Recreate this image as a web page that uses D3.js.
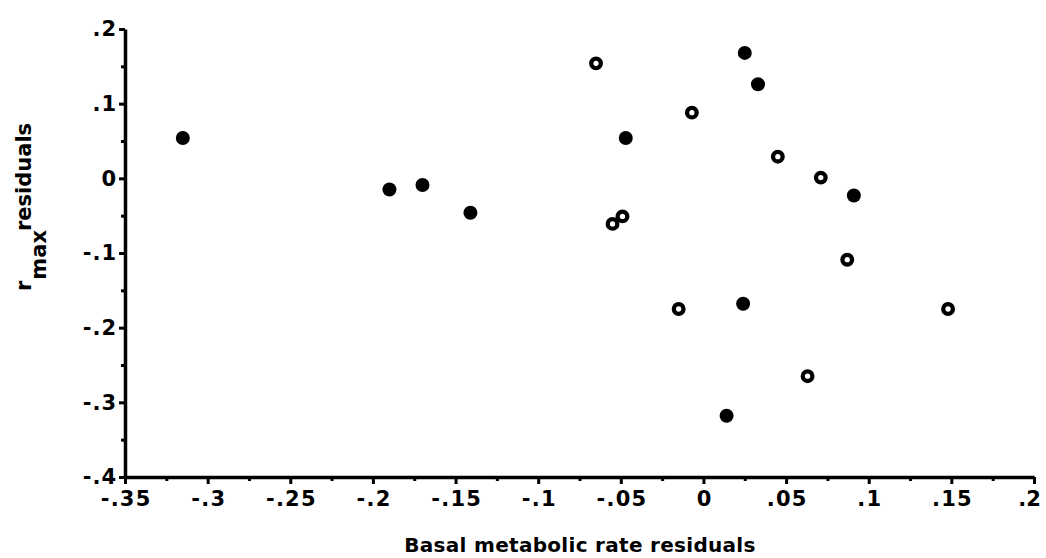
<!DOCTYPE html>
<html>
<head>
<meta charset="utf-8">
<script src="https://cdn.jsdelivr.net/npm/d3@7"></script>
<style>
  body { margin: 0; background: #fff; }
  text { font-family: "DejaVu Sans", sans-serif; font-weight: bold; fill: #000; }
</style>
</head>
<body>
<script>
// values
const filledX = [-0.315, -0.190, -0.170, -0.141, -0.047, 0.025, 0.033, 0.091, 0.024, 0.014];
const filledY = [0.054, -0.015, -0.009, -0.046, 0.054, 0.168, 0.126, -0.023, -0.168, -0.318];
const openX = [-0.065, -0.007, 0.045, 0.071, -0.055, -0.049, 0.087, -0.015, 0.063, 0.148];
const openY = [0.154, 0.088, 0.029, 0.001, -0.061, -0.051, -0.109, -0.175, -0.265, -0.175];

const xTicks = [-0.35, -0.3, -0.25, -0.2, -0.15, -0.1, -0.05, 0, 0.05, 0.1, 0.15, 0.2];
const xTickLabels = ['-.35', '-.3', '-.25', '-.2', '-.15', '-.1', '-.05', '0', '.05', '.1', '.15', '.2'];
const yTicks = [-0.4, -0.3, -0.2, -0.1, 0, 0.1, 0.2];
const yTickLabels = ['-.4', '-.3', '-.2', '-.1', '0', '.1', '.2'];

const width = 1046;
const height = 558;
const margin = { left: 125, right: 12, top: 29, bottom: 81 };

const svg = d3.select('body').append('svg')
  .attr('width', width)
  .attr('height', height);

const xScale = d3.scaleLinear()
  .domain([-0.35, 0.2])
  .range([margin.left, width - margin.right]);
const yScale = d3.scaleLinear()
  .domain([-0.4, 0.2])
  .range([height - margin.bottom, margin.top]);

const xMinor = d3.range(0, 11).map(i => -0.325 + i * 0.05);
const yMinor = d3.range(0, 6).map(i => -0.35 + i * 0.1);

// minor ticks first, then the main axes over them
svg.append('g')
  .attr('transform', `translate(0, ${yScale(-0.4)})`)
  .call(d3.axisBottom(xScale).tickValues(xMinor).tickSize(4).tickFormat(''))
  .call(g => g.select('.domain').remove())
  .selectAll('line').attr('stroke-width', 3);

svg.append('g')
  .attr('transform', `translate(${xScale(-0.35)}, 0)`)
  .call(d3.axisLeft(yScale).tickValues(yMinor).tickSize(4).tickFormat(''))
  .call(g => g.select('.domain').remove())
  .selectAll('line').attr('stroke-width', 3);

const xAxis = svg.append('g')
  .attr('transform', `translate(0, ${yScale(-0.4)})`)
  .call(d3.axisBottom(xScale)
    .tickValues(xTicks)
    .tickSize(7)
    .tickSizeOuter(0)
    .tickPadding(7)
    .tickFormat((d, i) => xTickLabels[i]));
xAxis.select('.domain').attr('stroke-width', 3.5);
xAxis.selectAll('line').attr('stroke-width', 3);
xAxis.selectAll('text')
  .attr('font-size', 21)
  .attr('font-family', '"DejaVu Sans", sans-serif')
  .attr('font-weight', 'bold')
  .attr('letter-spacing', (d, i) => i === xTicks.length - 1 ? 0 : 1.2)
  .attr('dx', (d, i) => i === xTicks.length - 1 ? -5 : 0.6);

const yAxis = svg.append('g')
  .attr('transform', `translate(${xScale(-0.35)}, 0)`)
  .call(d3.axisLeft(yScale)
    .tickValues(yTicks)
    .tickSize(6)
    .tickSizeOuter(0)
    .tickPadding(3)
    .tickFormat((d, i) => yTickLabels[i]));
yAxis.select('.domain').attr('stroke-width', 3.5);
yAxis.selectAll('line').attr('stroke-width', 3);
yAxis.selectAll('text')
  .attr('font-size', 21)
  .attr('font-family', '"DejaVu Sans", sans-serif')
  .attr('font-weight', 'bold')
  .attr('letter-spacing', 1)
  .attr('dx', 1);

// points
svg.append('g').selectAll('circle')
  .data(filledX.map((x, i) => [x, filledY[i]]))
  .enter()
  .append('circle')
  .attr('cx', d => xScale(d[0]))
  .attr('cy', d => yScale(d[1]))
  .attr('r', 7)
  .attr('fill', '#000');

svg.append('g').selectAll('circle')
  .data(openX.map((x, i) => [x, openY[i]]))
  .enter()
  .append('circle')
  .attr('cx', d => xScale(d[0]))
  .attr('cy', d => yScale(d[1]))
  .attr('r', 4.8)
  .attr('fill', '#fff')
  .attr('stroke', '#000')
  .attr('stroke-width', 4.3);

// axis titles
svg.append('text')
  .attr('x', 580)
  .attr('y', 552)
  .attr('text-anchor', 'middle')
  .attr('font-size', 20)
  .attr('letter-spacing', 0.3)
  .text('Basal metabolic rate residuals');

const yTitle = svg.append('text')
  .attr('transform', 'translate(31, 291) rotate(-90)')
  .attr('font-size', 21);
yTitle.append('tspan').text('r');
yTitle.append('tspan').attr('dy', 15).attr('dx', 1).text('max');
yTitle.append('tspan').attr('dy', -15).attr('dx', -1).text('residuals');
</script>
</body>
</html>
